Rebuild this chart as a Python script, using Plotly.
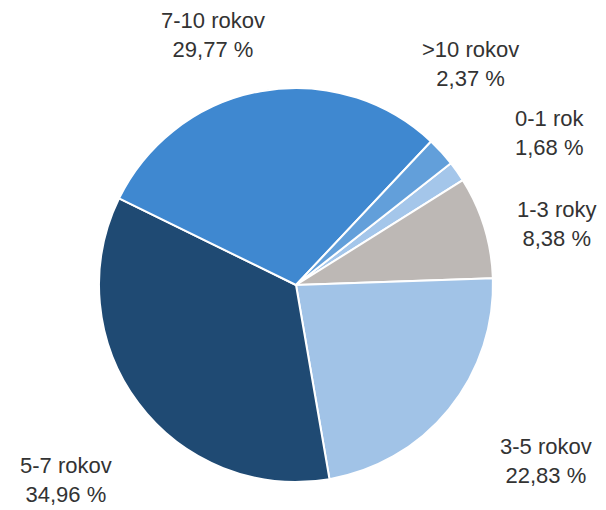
import plotly.graph_objects as go

labels = ["0-1 rok", "1-3 roky", "3-5 rokov", "5-7 rokov", "7-10 rokov", ">10 rokov"]
values = [1.68, 8.38, 22.83, 34.96, 29.77, 2.37]
value_text = ["1,68 %", "8,38 %", "22,83 %", "34,96 %", "29,77 %", "2,37 %"]
colors = ["#A4C6EA", "#BDB8B5", "#A1C3E7", "#1F4A73", "#3F88D0", "#629FDA"]

# page has an 8px body margin, so the figure is sized/placed accordingly
W, H, OFF = 598, 502, 8
label_x = [549, 556, 546, 66, 213, 470]
label_y = [133, 224, 461, 480, 35, 64]
cx, cy, r = 296 - OFF, 285 - OFF, 197

fig = go.Figure(go.Pie(
    labels=labels, values=values, sort=False, direction="clockwise",
    rotation=51.8, marker=dict(colors=colors, line=dict(color="white", width=2)),
    textinfo="none", hoverinfo="label+percent",
    domain=dict(x=[(cx - r) / W, (cx + r) / W],
                y=[1 - (cy + r) / H, 1 - (cy - r) / H]),
))

for lab, vt, x, y in zip(labels, value_text, label_x, label_y):
    fig.add_annotation(x=(x - OFF) / W, y=1 - (y - OFF) / H, xref="paper", yref="paper",
                       text=f"{lab}<br>{vt}", showarrow=False,
                       xanchor="center", yanchor="middle",
                       font=dict(family="Liberation Sans", size=22, color="#333333"))

fig.update_layout(width=W, height=H, margin=dict(l=0, r=0, t=0, b=0),
                  showlegend=False, paper_bgcolor="white", plot_bgcolor="white")
fig.write_html("out.html")
